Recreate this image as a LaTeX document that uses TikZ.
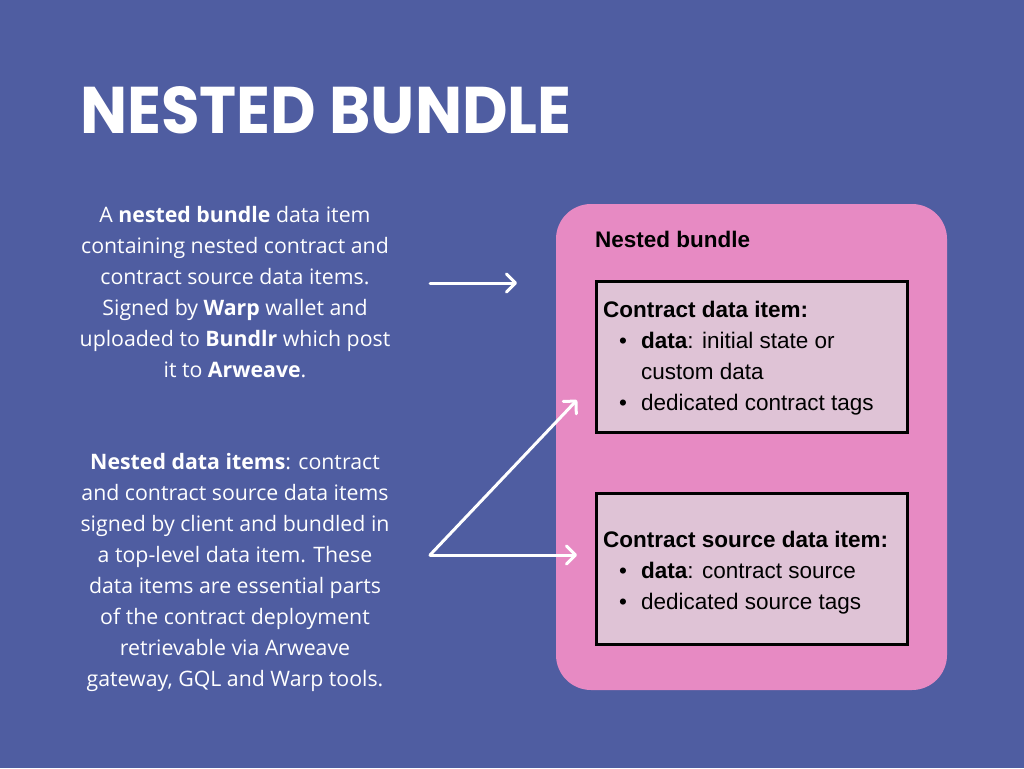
\documentclass[tikz,border=0pt]{standalone}
\usepackage{fontspec}
\setmainfont{Open Sans}
\newfontfamily\boxfont{Liberation Sans}
\newfontfamily\titlefont{Poppins}
\usetikzlibrary{arrows.meta, positioning}
\definecolor{warpblue}{RGB}{79,93,161}
\definecolor{bundlepink}{RGB}{231,138,195}
\definecolor{itempink}{RGB}{223,195,214}

\begin{document}
\begin{tikzpicture}[x=1pt, y=-1pt,
    note/.style={align=center, text=white, inner sep=0pt, anchor=north,
                 font=\fontsize{21.3}{31}\selectfont},
    itembox/.style={draw=black, line width=3pt, fill=itempink,
                    minimum width=311pt, minimum height=151pt, inner sep=0pt},
    itemtext/.style={align=left, inner sep=0pt, anchor=north west,
                     font=\boxfont\fontsize{22.5}{31}\selectfont},
    link/.style={white, line width=3pt, line cap=round,
                 -{Straight Barb[length=9pt, width=18pt, round]}}
]
\useasboundingbox[fill=warpblue] (0,0) rectangle (1024,768);

\node[anchor=base west, text=white, inner sep=0pt, xscale=0.95,
      font=\titlefont\bfseries\fontsize{66}{66}\selectfont] (title) at (80,133) {NESTED BUNDLE};

% left column
\node[note] (bundlenote) at (235,206) {A \textbf{nested bundle} data item\\
  containing nested contract and\\ contract source data items.\\
  Signed by \textbf{Warp} wallet and\\ uploaded to \textbf{Bundlr} which post\\
  it to \textbf{Arweave}.};
\node[note] (nestednote) at (235,453) {\textbf{Nested data items}: contract\\
  and contract source data items\\ signed by client and bundled in\\
  a top-level data item. These\\ data items are essential parts\\
  of the contract deployment\\ retrievable via Arweave\\ gateway, GQL and Warp tools.};

% right column
\node[fill=bundlepink, rounded corners=35pt, minimum width=391pt,
      minimum height=486pt, inner sep=0pt] (bundle) at (751.5,447) {};
\node[itemtext, font=\boxfont\bfseries\fontsize{22.5}{31}\selectfont] (bundlelabel) at (595,231) {Nested bundle};

\node[itembox] (contractitem) at (751.5,357) {};
\node[itemtext] (contracttext) at (603,301) {\textbf{Contract data item:}\\
  \hspace{16pt}\textbullet\hspace{14pt}\textbf{data}: initial state or\\
  \hspace{38pt}custom data\\
  \hspace{16pt}\textbullet\hspace{14pt}dedicated contract tags};

\node[itembox] (sourceitem) at (751.5,569) {};
\node[itemtext] (sourcetext) at (603,531) {\textbf{Contract source data item:}\\
  \hspace{16pt}\textbullet\hspace{14pt}\textbf{data}: contract source\\
  \hspace{16pt}\textbullet\hspace{14pt}dedicated source tags};

% arrows
\coordinate (bundlefrom) at (430,283);
\coordinate (bundleto) at (517,283);
\coordinate (fork) at (430,555);
\coordinate (contractto) at (577,400);
\coordinate (sourceto) at (577,555);
\draw[link] (bundlefrom) -- (bundleto);
\draw[link] (fork) -- (contractto);
\draw[link] (fork) -- (sourceto);
\end{tikzpicture}
\end{document}
